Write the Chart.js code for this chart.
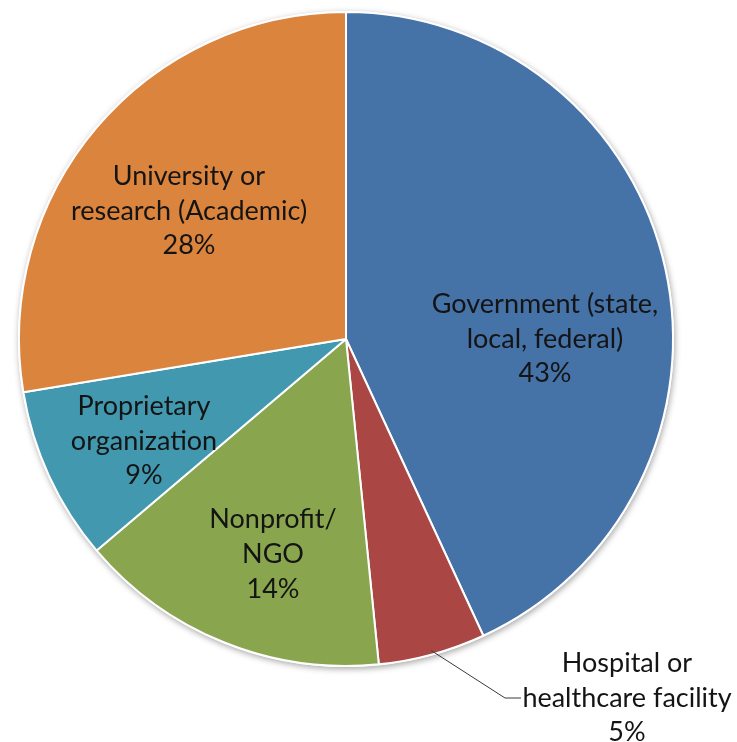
<!DOCTYPE html>
<html>
<head>
<meta charset="utf-8">
<script src="https://cdn.jsdelivr.net/npm/chart.js@4/dist/chart.umd.min.js"></script>
<style>
  html, body { margin: 0; padding: 0; background: #ffffff; }
  #wrap { width: 737px; height: 742px; }
</style>
</head>
<body>
<div id="wrap"><canvas id="c" width="737" height="742"></canvas></div>
<script>
// ---- data ----
const categories = [
  "Government (state, local, federal)",
  "Hospital or healthcare facility",
  "Nonprofit/ NGO",
  "Proprietary organization",
  "University or research (Academic)"
];
const values = [43.1, 5.3, 15.4, 8.6, 27.6];
const percentLabels = ["43%", "5%", "14%", "9%", "28%"];
const labelLines = [
  ["Government (state,", "local, federal)"],
  ["Hospital or", "healthcare facility"],
  ["Nonprofit/", "NGO"],
  ["Proprietary", "organization"],
  ["University or", "research (Academic)"]
];
const colors = ["#4572A7", "#AA4643", "#89A54E", "#4198AF", "#DB843D"];

// ---- label layout (positions of text blocks, not data) ----
const labelLayout = [
  { x: 545, y: 313, dy: 34.5 },
  { x: 627, y: 672, dy: 34.5 },
  { x: 273, y: 528, dy: 35 },
  { x: 144, y: 415, dy: 34.5 },
  { x: 189, y: 185, dy: 34.5 }
];
const FONT = '27px Lato, "Open Sans", sans-serif';

const shadowPlugin = {
  id: 'pieShadow',
  beforeDatasetsDraw(chart) {
    const arc = chart.getDatasetMeta(0).data[0];
    if (!arc) return;
    const ctx = chart.ctx;
    ctx.save();
    ctx.beginPath();
    ctx.arc(arc.x, arc.y, arc.outerRadius + 1, 0, Math.PI * 2);
    ctx.fillStyle = '#ffffff';
    ctx.shadowColor = 'rgba(0,0,0,0.35)';
    ctx.shadowBlur = 6;
    ctx.shadowOffsetX = 1;
    ctx.shadowOffsetY = 2;
    ctx.fill();
    ctx.restore();
  }
};

const labelPlugin = {
  id: 'pieLabels',
  afterDatasetsDraw(chart) {
    const ctx = chart.ctx;
    const meta = chart.getDatasetMeta(0);
    ctx.save();
    ctx.font = FONT;
    ctx.fillStyle = '#141414';
    ctx.textAlign = 'center';
    ctx.textBaseline = 'alphabetic';
    labelLines.forEach((lines, i) => {
      const L = labelLayout[i];
      const all = lines.concat([percentLabels[i]]);
      all.forEach((t, k) => ctx.fillText(t, L.x, L.y + k * L.dy));
    });
    // leader line for the small "Hospital" slice
    const a = meta.data[1];
    if (a) {
      const mid = (a.startAngle + a.endAngle) / 2;
      const r = a.outerRadius - 4;
      const sx = a.x + Math.cos(mid) * r;
      const sy = a.y + Math.sin(mid) * r;
      ctx.beginPath();
      ctx.strokeStyle = '#3a3a3a';
      ctx.lineWidth = 1;
      ctx.moveTo(sx, sy);
      ctx.lineTo(505, 698);
      ctx.lineTo(521, 698);
      ctx.stroke();
    }
    ctx.restore();
  }
};

new Chart(document.getElementById('c'), {
  type: 'pie',
  data: {
    labels: categories,
    datasets: [{
      data: values,
      backgroundColor: colors,
      borderColor: '#ffffff',
      borderWidth: 2,
      hoverOffset: 0,
      offset: 0
    }]
  },
  options: {
    responsive: false,
    animation: false,
    events: [],
    layout: { padding: { left: 18, right: 63, top: 11, bottom: 75 } },
    plugins: {
      legend: { display: false },
      tooltip: { enabled: false },
      title: { display: false }
    }
  },
  plugins: [shadowPlugin, labelPlugin]
});
</script>
</body>
</html>
